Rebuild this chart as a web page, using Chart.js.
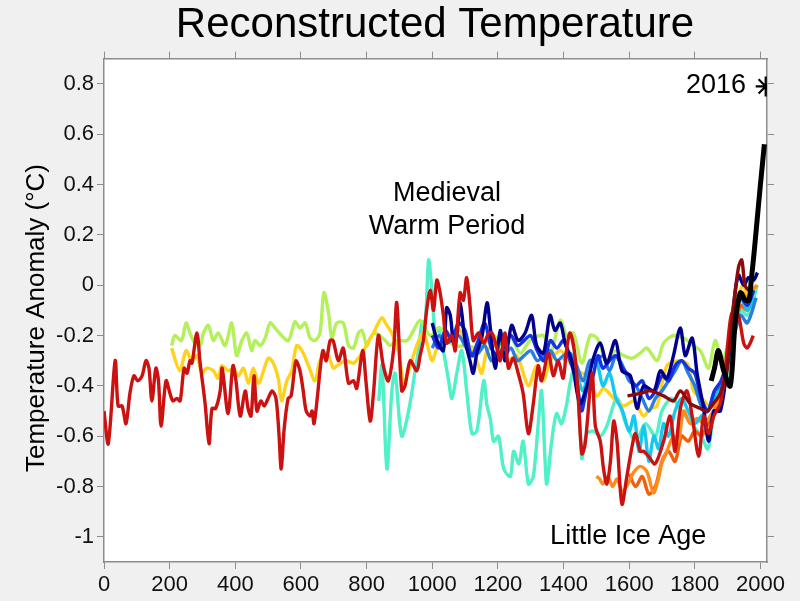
<!DOCTYPE html>
<html>
<head>
<meta charset="utf-8">
<title>Reconstructed Temperature</title>
<script src="https://cdn.jsdelivr.net/npm/chart.js@4.4.0/dist/chart.umd.min.js"></script>
<style>
  html, body { margin: 0; padding: 0; background: #f0f0f0; }
  #wrap { width: 800px; height: 601px; }
</style>
</head>
<body>
<div id="wrap"><canvas id="tempChart" width="800" height="601"></canvas></div>
<script>
const xTicks = [0, 200, 400, 600, 800, 1000, 1200, 1400, 1600, 1800, 2000]
const yTicks = [-1, -0.8, -0.6, -0.4, -0.2, 0, 0.2, 0.4, 0.6, 0.8]

const redYears = [
  0, 13, 34, 43, 55, 67, 79, 91, 103, 116,
  128, 137, 146, 158, 166, 174, 189, 201, 210, 222,
  232, 244, 253, 262, 268, 283, 293, 308, 320, 329,
  340, 354, 360, 378, 393, 402, 415, 430, 439, 448,
  457, 466, 478, 488, 500, 512, 524, 533, 540, 549,
  561, 570, 579, 585, 597, 607, 616, 628, 634, 640,
  652, 658, 667, 677, 689, 698, 714, 729, 745, 760,
  770, 788, 798, 811, 821, 836, 851, 866, 882, 892,
  907, 917, 933, 953, 963, 973, 983, 994, 1004, 1014,
  1024, 1034, 1044, 1060, 1070, 1085, 1095, 1105, 1115, 1125,
  1141, 1157, 1172, 1182, 1197, 1207, 1222, 1232, 1247, 1262,
  1277, 1293, 1308, 1323, 1333, 1354, 1369, 1384, 1399, 1409,
  1420, 1435, 1445, 1456, 1466, 1487, 1497, 1512, 1522, 1532,
  1543, 1553, 1563, 1578, 1593, 1609, 1619, 1634, 1644, 1659,
  1679, 1705, 1725, 1740, 1756, 1776, 1792, 1812, 1827, 1842,
  1858, 1878, 1893, 1908, 1918, 1933, 1949, 1959, 1969, 1978
]
const redValues = [
  -0.50, -0.63, -0.30, -0.48, -0.48, -0.55, -0.43, -0.36, -0.38, -0.36,
  -0.30, -0.33, -0.46, -0.33, -0.38, -0.56, -0.38, -0.43, -0.46, -0.45,
  -0.46, -0.33, -0.35, -0.30, -0.31, -0.19, -0.31, -0.47, -0.63, -0.49,
  -0.49, -0.42, -0.33, -0.51, -0.32, -0.38, -0.52, -0.42, -0.49, -0.52,
  -0.36, -0.50, -0.46, -0.48, -0.45, -0.42, -0.45, -0.59, -0.73, -0.57,
  -0.45, -0.44, -0.35, -0.30, -0.34, -0.42, -0.50, -0.52, -0.50, -0.55,
  -0.42, -0.34, -0.26, -0.30, -0.22, -0.22, -0.30, -0.25, -0.39, -0.38,
  -0.41, -0.26, -0.38, -0.54, -0.43, -0.20, -0.32, -0.38, -0.26, -0.07,
  -0.42, -0.40, -0.30, -0.34, -0.28, -0.22, -0.10, -0.02, -0.10, 0.02,
  -0.03, -0.12, -0.23, -0.20, -0.26, -0.03, -0.06, 0.03, -0.08, -0.22,
  -0.19, -0.23, -0.19, -0.19, -0.25, -0.30, -0.19, -0.33, -0.29, -0.35,
  -0.43, -0.59, -0.47, -0.32, -0.38, -0.27, -0.36, -0.30, -0.37, -0.26,
  -0.19, -0.28, -0.45, -0.67, -0.63, -0.35, -0.56, -0.62, -0.73, -0.79,
  -0.70, -0.54, -0.62, -0.87, -0.76, -0.64, -0.59, -0.66, -0.66, -0.68,
  -0.71, -0.62, -0.52, -0.66, -0.49, -0.42, -0.52, -0.68, -0.52, -0.59,
  -0.52, -0.47, -0.33, -0.14, -0.10, -0.12, -0.23, -0.25, -0.23, -0.20
]

const limeYears = [
  206, 216, 236, 250, 262, 277, 293, 303, 318, 333,
  348, 369, 389, 404, 420, 435, 450, 460, 476, 491,
  506, 521, 541, 562, 582, 597, 613, 628, 643, 658,
  670, 684, 694, 709, 729, 745, 760, 775, 786, 801,
  811, 826, 857, 872, 892, 923, 943, 963, 994, 1024,
  1065, 1105, 1146, 1187, 1218, 1238, 1268, 1298, 1339, 1359,
  1390, 1410, 1430, 1456, 1481, 1502, 1532, 1558, 1583, 1609,
  1634, 1654, 1685, 1705, 1735, 1766, 1796, 1817, 1842, 1862,
  1883, 1898, 1920, 1940, 1960, 1975, 1990
]
const limeValues = [
  -0.24, -0.20, -0.22, -0.15, -0.19, -0.23, -0.24, -0.19, -0.16, -0.22,
  -0.19, -0.24, -0.15, -0.28, -0.22, -0.19, -0.26, -0.22, -0.24, -0.21,
  -0.15, -0.17, -0.20, -0.22, -0.145, -0.17, -0.15, -0.21, -0.22, -0.19,
  -0.03, -0.11, -0.21, -0.15, -0.15, -0.24, -0.25, -0.19, -0.18, -0.24,
  -0.21, -0.19, -0.22, -0.24, -0.22, -0.22, -0.18, -0.14, -0.20, -0.17,
  -0.24, -0.24, -0.25, -0.20, -0.25, -0.20, -0.27, -0.22, -0.20, -0.28,
  -0.14, -0.20, -0.19, -0.31, -0.20, -0.21, -0.30, -0.26, -0.28, -0.29,
  -0.27, -0.25, -0.30, -0.23, -0.20, -0.21, -0.24, -0.26, -0.33, -0.22,
  -0.30, -0.25, -0.12, -0.05, -0.06, -0.03, 0.0
]

const yellowYears = [
  206, 231, 250, 267, 283, 298, 313, 333, 348, 359,
  379, 394, 409, 425, 440, 455, 471, 486, 501, 516,
  531, 541, 557, 572, 587, 603, 623, 643, 658, 679,
  699, 709, 739, 760, 790, 821, 846, 862, 877, 897,
  913, 928, 953, 974, 999, 1014, 1034, 1055, 1075, 1095,
  1115, 1136, 1151, 1167, 1197, 1228, 1258, 1293, 1318, 1339,
  1359, 1390, 1410, 1440, 1471, 1502, 1522, 1553, 1583, 1614,
  1644, 1664, 1685, 1715, 1756, 1781, 1796, 1822, 1847, 1868,
  1888, 1908, 1929, 1949, 1964, 1978
]
const yellowValues = [
  -0.25, -0.34, -0.26, -0.30, -0.28, -0.35, -0.33, -0.34, -0.37, -0.32,
  -0.34, -0.33, -0.36, -0.33, -0.39, -0.33, -0.39, -0.34, -0.29, -0.31,
  -0.37, -0.46, -0.38, -0.34, -0.24, -0.26, -0.32, -0.38, -0.30, -0.27,
  -0.33, -0.32, -0.30, -0.31, -0.26, -0.19, -0.13, -0.16, -0.19, -0.26,
  -0.39, -0.34, -0.24, -0.19, -0.30, -0.25, -0.19, -0.21, -0.17, -0.20,
  -0.25, -0.30, -0.35, -0.26, -0.24, -0.30, -0.28, -0.40, -0.32, -0.38,
  -0.30, -0.26, -0.29, -0.34, -0.36, -0.44, -0.41, -0.45, -0.48, -0.46,
  -0.52, -0.49, -0.48, -0.32, -0.30, -0.32, -0.42, -0.45, -0.48, -0.42,
  -0.37, -0.19, -0.05, 0.0, -0.10, -0.06
]

const aquaYears = [
  837, 847, 862, 877, 887, 907, 928, 948, 958, 969,
  979, 989, 999, 1009, 1019, 1034, 1050, 1060, 1075, 1090,
  1105, 1121, 1136, 1157, 1167, 1177, 1187, 1202, 1218, 1238,
  1248, 1264, 1277, 1293, 1308, 1323, 1333, 1344, 1349, 1364,
  1379, 1394, 1410, 1420, 1435, 1450, 1456, 1471, 1491, 1512,
  1532, 1563, 1590, 1620, 1650, 1680, 1700, 1730, 1760, 1790,
  1820, 1840, 1860, 1880, 1900, 1920, 1940, 1960, 1980, 1990
]
const aquaValues = [
  -0.46, -0.32, -0.73, -0.42, -0.35, -0.60, -0.50, -0.34, -0.26, -0.15,
  -0.14, 0.10, -0.02, -0.19, -0.17, -0.26, -0.38, -0.45, -0.35, -0.26,
  -0.42, -0.59, -0.58, -0.38, -0.48, -0.53, -0.62, -0.60, -0.73, -0.76,
  -0.66, -0.71, -0.62, -0.79, -0.76, -0.55, -0.42, -0.70, -0.79, -0.62,
  -0.51, -0.55, -0.47, -0.39, -0.32, -0.55, -0.69, -0.59, -0.58, -0.60,
  -0.56, -0.45, -0.55, -0.62, -0.55, -0.60, -0.50, -0.45, -0.50, -0.55,
  -0.60, -0.65, -0.50, -0.45, -0.35, -0.20, -0.10, -0.12, -0.05, 0.0
]

const navyYears = [
  1000, 1015, 1034, 1044, 1055, 1065, 1075, 1085, 1100, 1115,
  1125, 1136, 1151, 1167, 1177, 1192, 1207, 1222, 1242, 1262,
  1283, 1303, 1318, 1339, 1359, 1374, 1390, 1405, 1425, 1450,
  1471, 1491, 1512, 1532, 1558, 1578, 1604, 1624, 1644, 1675,
  1695, 1715, 1735, 1756, 1771, 1792, 1807, 1827, 1842, 1858,
  1878, 1898, 1918, 1933, 1949, 1964, 1979, 1991
]
const navyValues = [
  -0.15, -0.22, -0.26, -0.09, -0.12, -0.23, -0.20, -0.07, -0.22, -0.30,
  -0.35, -0.27, -0.21, -0.07, -0.17, -0.33, -0.18, -0.30, -0.16, -0.22,
  -0.19, -0.12, -0.24, -0.27, -0.12, -0.18, -0.15, -0.23, -0.30, -0.47,
  -0.40, -0.29, -0.23, -0.31, -0.22, -0.34, -0.36, -0.49, -0.40, -0.42,
  -0.34, -0.37, -0.28, -0.17, -0.28, -0.21, -0.35, -0.49, -0.62, -0.50,
  -0.50, -0.33, -0.08, 0.04, 0.0, 0.03, 0.02, 0.05
]

const blueYears = [
  1000, 1020, 1040, 1060, 1080, 1100, 1120, 1140, 1160, 1180,
  1200, 1220, 1240, 1260, 1280, 1300, 1320, 1340, 1360, 1380,
  1400, 1420, 1440, 1455, 1470, 1490, 1505, 1520, 1540, 1560,
  1580, 1600, 1620, 1640, 1660, 1680, 1700, 1720, 1740, 1760,
  1780, 1800, 1820, 1840, 1860, 1880, 1900, 1920, 1940, 1960, 1980
]
const blueValues = [
  -0.20, -0.25, -0.18, -0.22, -0.15, -0.18, -0.28, -0.22, -0.15, -0.25,
  -0.28, -0.24, -0.20, -0.24, -0.22, -0.20, -0.26, -0.30, -0.22, -0.25,
  -0.22, -0.30, -0.38, -0.50, -0.42, -0.36, -0.28, -0.33, -0.30, -0.28,
  -0.33, -0.36, -0.40, -0.38, -0.45, -0.42, -0.36, -0.38, -0.32, -0.30,
  -0.33, -0.35, -0.45, -0.50, -0.42, -0.38, -0.30, -0.15, -0.05, -0.08, -0.02
]

const skyYears = [
  1000, 1020, 1040, 1060, 1080, 1100, 1120, 1140, 1160, 1180,
  1200, 1220, 1240, 1260, 1280, 1300, 1320, 1340, 1360, 1380,
  1400, 1420, 1440, 1460, 1480, 1500, 1520, 1540, 1560, 1580,
  1600, 1620, 1640, 1660, 1680, 1700, 1720, 1740, 1760, 1780,
  1800, 1820, 1840, 1860, 1880, 1900, 1920, 1940, 1960, 1987
]
const skyValues = [
  -0.25, -0.20, -0.23, -0.22, -0.20, -0.24, -0.28, -0.27, -0.24, -0.30,
  -0.27, -0.28, -0.25, -0.30, -0.28, -0.26, -0.30, -0.28, -0.26, -0.30,
  -0.28, -0.27, -0.32, -0.38, -0.30, -0.30, -0.28, -0.34, -0.28, -0.32,
  -0.38, -0.40, -0.45, -0.50, -0.45, -0.42, -0.38, -0.34, -0.30, -0.35,
  -0.40, -0.48, -0.50, -0.42, -0.40, -0.32, -0.20, -0.12, -0.15, -0.05
]

const cyanYears = [
  1400, 1420, 1440, 1460, 1480, 1500, 1520, 1540, 1560, 1580,
  1600, 1615, 1630, 1645, 1660, 1675, 1690, 1705, 1720, 1740,
  1760, 1780, 1800, 1820, 1840, 1860, 1880, 1900, 1920, 1940, 1960, 1980
]
const cyanValues = [
  -0.30, -0.28, -0.35, -0.42, -0.32, -0.30, -0.40, -0.35, -0.45, -0.50,
  -0.58, -0.52, -0.66, -0.56, -0.70, -0.60, -0.65, -0.55, -0.60, -0.50,
  -0.45, -0.50, -0.55, -0.52, -0.50, -0.45, -0.40, -0.30, -0.15, -0.05, -0.10, -0.05
]

const orangeYears = [
  1500, 1510, 1520, 1535, 1550, 1563, 1580, 1600, 1613, 1633,
  1654, 1674, 1689, 1699, 1715, 1735, 1750, 1766, 1786, 1807,
  1827, 1847, 1868, 1888, 1908, 1929, 1944, 1959, 1975, 1990
]
const orangeValues = [
  -0.76, -0.77, -0.79, -0.76, -0.80, -0.77, -0.82, -0.78, -0.745, -0.72,
  -0.74, -0.825, -0.77, -0.71, -0.66, -0.60, -0.62, -0.50, -0.55, -0.53,
  -0.55, -0.52, -0.47, -0.40, -0.25, -0.08, -0.03, -0.05, -0.02, 0.0
]

const emberYears = [
  1600, 1620, 1640, 1660, 1680, 1700, 1720, 1740, 1760, 1780,
  1800, 1820, 1840, 1860, 1880, 1900, 1920, 1940, 1960, 1980
]
const emberValues = [
  -0.75, -0.80, -0.76, -0.83, -0.80, -0.70, -0.66, -0.70, -0.60, -0.62,
  -0.58, -0.60, -0.55, -0.50, -0.45, -0.33, -0.18, -0.08, -0.10, -0.05
]

const maroonYears = [
  1595, 1634, 1664, 1705, 1735, 1756, 1786, 1817, 1837, 1857,
  1878, 1898, 1918, 1933, 1943, 1953, 1965, 1975
]
const maroonValues = [
  -0.44, -0.43, -0.42, -0.44, -0.46, -0.42, -0.47, -0.49, -0.50, -0.47,
  -0.43, -0.33, -0.085, 0.07, 0.10, 0.0, -0.02, 0.02
]

const instrumentYears = [1850, 1860, 1872, 1888, 1908, 1923, 1939, 1954, 1965, 1972, 1980, 1990, 2000, 2012]
const instrumentValues = [-0.38, -0.33, -0.26, -0.34, -0.40, -0.15, -0.03, -0.06, -0.06, 0.02, 0.12, 0.26, 0.40, 0.56]

const recordYear = [2016]
const recordValue = [0.79]

const toPoints = (years, values) => years.map((year, i) => ({x: year, y: values[i]}))

const lineSet = (points, color, width) => ({
  data: points,
  borderColor: color,
  borderWidth: width,
  pointRadius: 0,
  tension: 0.3,
  fill: false
})

const axisFont = {family: "'Liberation Sans', Arial, sans-serif", size: 22}
const axisColor = '#8c8c8c'

const textPlugin = {
  id: 'chartText',
  beforeDraw(chart) {
    const ctx = chart.ctx
    const area = chart.chartArea
    ctx.save()
    ctx.fillStyle = '#f0f0f0'
    ctx.fillRect(0, 0, chart.width, chart.height)
    ctx.fillStyle = '#ffffff'
    ctx.fillRect(area.left, area.top, area.right - area.left, area.bottom - area.top)
    ctx.restore()
  },
  afterDraw(chart) {
    const ctx = chart.ctx
    const xs = chart.scales.x
    const ys = chart.scales.y
    const font = "'Liberation Sans', Arial, sans-serif"
    ctx.save()
    ctx.fillStyle = '#000000'

    ctx.font = '42px ' + font
    ctx.textAlign = 'center'
    ctx.textBaseline = 'alphabetic'
    ctx.fillText('Reconstructed Temperature', 435, 37)

    ctx.save()
    ctx.translate(37, 318)
    ctx.rotate(-Math.PI / 2)
    ctx.font = '26px ' + font
    ctx.textBaseline = 'middle'
    ctx.fillText('Temperature Anomaly (°C)', 0, 0)
    ctx.restore()

    ctx.font = '27px ' + font
    ctx.textBaseline = 'middle'
    ctx.textAlign = 'center'
    ctx.fillText('Medieval', xs.getPixelForValue(1045), ys.getPixelForValue(0.366))
    ctx.fillText('Warm Period', xs.getPixelForValue(1045), ys.getPixelForValue(0.235))
    ctx.fillText('Little Ice Age', xs.getPixelForValue(1597), ys.getPixelForValue(-1.0))
    ctx.textAlign = 'right'
    ctx.fillText('2016', xs.getPixelForValue(1956), ys.getPixelForValue(0.795))
    ctx.restore()
  }
}

const tickScale = (position, size, showLabels) => ({
  type: 'linear',
  position: position,
  grid: {display: true, drawOnChartArea: false, drawTicks: true, tickLength: 7, color: axisColor},
  border: {display: true, color: axisColor, width: 1.5},
  ticks: {
    display: showLabels,
    font: axisFont,
    color: '#111111',
    padding: 3,
    callback: (value) => String(Number(value.toFixed(1)))
  },
  afterFit(scale) {
    if (position === 'left' || position === 'right') scale.width = size
    else scale.height = size
  }
})

const xBottom = tickScale('bottom', 39, true)
const xTop = tickScale('top', 58.7, false)
const yLeft = tickScale('left', 104, true)
const yRight = tickScale('right', 33, false)

;[xBottom, xTop].forEach(scale => {
  scale.min = 0
  scale.max = 2020
  scale.afterBuildTicks = (axis) => { axis.ticks = xTicks.map(v => ({value: v})) }
})
;[yLeft, yRight].forEach(scale => {
  scale.min = -1.1
  scale.max = 0.9
  scale.afterBuildTicks = (axis) => { axis.ticks = yTicks.map(v => ({value: v})) }
})

const canvas = document.getElementById('tempChart')

new Chart(canvas, {
  type: 'line',
  data: {
    datasets: [
      {
        data: toPoints(recordYear, recordValue),
        showLine: false,
        pointStyle: 'star',
        pointRadius: 10,
        pointBorderWidth: 2.2,
        pointBorderColor: '#000000',
        borderColor: '#000000'
      },
      lineSet(toPoints(instrumentYears, instrumentValues), '#000000', 5),
      lineSet(toPoints(maroonYears, maroonValues), '#8c0a0a', 3.4),
      lineSet(toPoints(redYears, redValues), '#cc1111', 3.4),
      lineSet(toPoints(navyYears, navyValues), '#00008c', 3.4),
      lineSet(toPoints(blueYears, blueValues), '#1432e6', 3.4),
      lineSet(toPoints(skyYears, skyValues), '#2a7de1', 3.4),
      lineSet(toPoints(cyanYears, cyanValues), '#14c8f0', 3.4),
      lineSet(toPoints(orangeYears, orangeValues), '#ff8c1a', 3.4),
      lineSet(toPoints(emberYears, emberValues), '#f0600a', 3.4),
      lineSet(toPoints(yellowYears, yellowValues), '#ffd21e', 3.4),
      lineSet(toPoints(limeYears, limeValues), '#b4f05a', 3.4),
      lineSet(toPoints(aquaYears, aquaValues), '#50f0c8', 3.4)
    ]
  },
  options: {
    responsive: false,
    animation: false,
    devicePixelRatio: 1,
    layout: {padding: 0},
    scales: {
      x: xBottom,
      xTop: xTop,
      y: yLeft,
      yRight: yRight
    },
    plugins: {
      legend: {display: false},
      tooltip: {enabled: false}
    }
  },
  plugins: [textPlugin]
})
</script>
</body>
</html>
